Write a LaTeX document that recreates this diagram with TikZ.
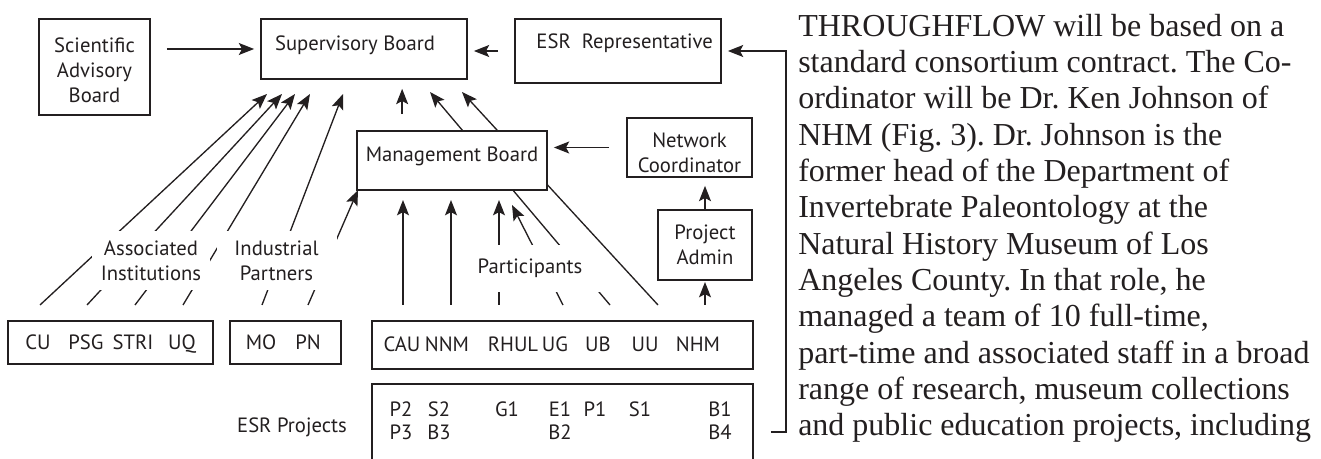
\documentclass[tikz,border=0pt]{standalone}
\usepackage{fontspec}
\setmainfont{Liberation Serif}
\newfontfamily\orgsans{PT Sans}
\usetikzlibrary{arrows.meta,backgrounds}
\definecolor{ink}{RGB}{35,31,32}
\tikzset{
  board/.style={draw=ink, line width=1.3pt, fill=white, inner sep=0pt},
  boardtext/.style={text=ink, align=center, inner sep=0pt,
    font=\orgsans\fontsize{15.5pt}{18.75pt}\selectfont},
  tag/.style={boardtext, fill=white},
  flow/.style={draw=ink, line width=1pt, -{Stealth[length=11.5pt,width=9pt,inset=2.4pt]}},
  para/.style={anchor=base west, inner sep=0pt, text=ink,
    font=\frenchspacing\fontsize{24pt}{27pt}\selectfont},
}

\begin{document}
\begin{tikzpicture}[x=0.75pt, y=-0.75pt]
        \useasboundingbox (0,0) rectangle (1321,459);
        \clip (0,0) rectangle (1321,459);

        \node[board, minimum width=83.25pt, minimum height=72pt,
          label={[boardtext, yshift=-2.25pt]center:Scientific\\Advisory\\Board}] (sab) at (94.5,67) {};
        \node[board, minimum width=154.5pt, minimum height=45pt,
          label={[boardtext, xshift=-6.75pt, yshift=3pt]center:Supervisory Board}] (sup) at (364,49) {};
        \node[board, minimum width=154.5pt, minimum height=48pt,
          label={[boardtext, xshift=5pt, yshift=6pt]center:ESR\ \ Representative}] (esr) at (618,51) {};
        \node[board, minimum width=142.5pt, minimum height=44.25pt,
          label={[boardtext, yshift=3.4pt]center:Management Board}] (mgmt) at (452,160.5) {};
        \node[board, minimum width=93.75pt, minimum height=44.25pt,
          label={[boardtext, yshift=-3.75pt]center:Network\\Coordinator}] (netc) at (689.5,147.5) {};
        \node[board, minimum width=70.5pt, minimum height=52.5pt,
          label={[boardtext]center:Project\\Admin}] (padm) at (705,245) {};

        \node[board, minimum width=153.75pt, minimum height=32.25pt] (inst) at (110.5,342.5) {};
        \node[board, minimum width=83.25pt, minimum height=32.25pt] (ind) at (285.5,342.5) {};
        \node[board, minimum width=285.75pt, minimum height=36pt] (part) at (562.5,345) {};
        \node[board, minimum width=285.75pt, minimum height=72pt] (proj) at (562.5,432) {};

        \foreach \who/\x in {CU/38, PSG/86, STRI/133, UQ/182, MO/261, PN/308}
          \node[boardtext, anchor=base] (\who) at (\x,350) {\who};
        \foreach \who/\x in {CAU/402, NNM/447, RHUL/513, UG/555, UB/598, UU/645, NHM/698}
          \node[boardtext, anchor=base] (\who) at (\x,352) {\who};
        \foreach \code/\x/\y in {P2/401/417, S2/439/417, G1/507/417, E1/560/417, P1/595/417,
            S1/640/417, B1/720/417, P3/401/440, B3/439/440, B2/560/440, B4/720/440}
          \node[boardtext, anchor=base] (\code) at (\x,\y) {\code};
        \node[boardtext, anchor=base] (esrproj) at (292,433) {ESR Projects};

        \node[tag, minimum width=88.5pt, minimum height=44.25pt] (assoc) at (151,260.5) {Associated\\Institutions};
        \node[tag, minimum width=90pt, minimum height=44.25pt] (indp) at (276.5,260.5) {Industrial\\Partners};
        \node[tag, minimum width=108pt, minimum height=35.25pt] (partp) at (530,268.5) {Participants};

        \begin{scope}[on background layer]
          \foreach \fx/\tx/\ty [count=\k] in {40/267/94, 87/282/94, 135/295/94, 183/310/94,
              262/343/94, 308/358/190, 403/403/200, 451/451/200, 499/499/200,
              563/512/205, 610/430/92, 658/462/92, 705/705/282} {
            \coordinate (foot\k) at (\fx,305);
            \coordinate (tip\k) at (\tx,\ty);
            \draw[flow] (foot\k) -- (tip\k);
          }
        \end{scope}

        \draw[flow, shorten <=12pt, shorten >=4.5pt] (sab.east |- sup.west) -- (sup.west);
        \draw[flow, shorten <=12pt, shorten >=4.5pt] (esr.west) -- (esr.west -| sup.east);
        \draw[flow, shorten <=12.75pt, shorten >=4.5pt] (netc.west) -- (netc.west -| mgmt.east);
        \draw[flow, shorten >=6pt] (padm.north) -- (padm.north |- netc.south);
        \coordinate (mgmt-up) at ([xshift=34.5pt]mgmt.north west);
        \draw[flow, shorten <=12pt, shorten >=6.75pt] (mgmt-up) -- (mgmt-up |- sup.south);
        \draw[flow, shorten <=12.75pt, shorten >=4.5pt] (proj.east) -- ++(32,0) |- (esr.east);

        \foreach \words [count=\i] in {
            {THROUGHFLOW will be based on a},
            {standard consortium contract. The Co-},
            {ordinator will be Dr. Ken Johnson of},
            {NHM (Fig. 3). Dr. Johnson is the},
            {former head of the Department of},
            {Invertebrate Paleontology at the},
            {Natural History Museum of Los},
            {Angeles County. In that role, he},
            {managed a team of 10 full-time,},
            {part-time and associated staff in a broad},
            {range of research, museum collections},
            {and public education projects, including}}
          \node[para] (row\i) at (798,{36.4+36.3*(\i-1)}) {\words};
\end{tikzpicture}
\end{document}
